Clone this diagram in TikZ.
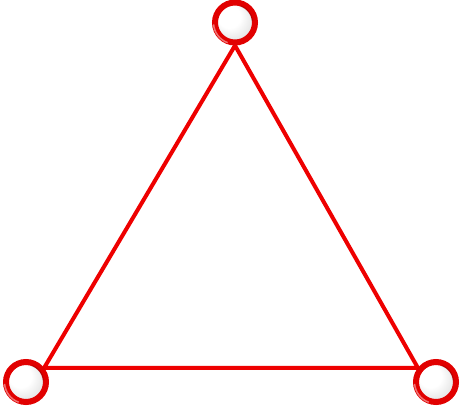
\documentclass[tikz,border=0pt]{standalone}
\usetikzlibrary{backgrounds}
\pgfdeclareradialshading{myball}{\pgfpoint{-10bp}{10bp}}{color(0bp)=(white); color(14bp)=(white); color(30bp)=(black!12); color(50bp)=(black!22)}
\begin{document}
\begin{tikzpicture}[x=1pt,y=-1pt,
  edge/.style={draw={rgb,255:red,238;green,0;blue,0},line width=4pt,line cap=round,line join=round},
  ball/.style={circle,minimum size=40pt,inner sep=0pt,outer sep=3pt,
    draw={rgb,255:red,225;green,0;blue,0},line width=6pt,shading=myball}]
\useasboundingbox (0,0) rectangle (462,418);
\node[ball] (t) at (235,22.5) {};
\node[ball] (l) at (26,382) {};
\node[ball] (r) at (436,382) {};
\begin{scope}[on background layer]
\draw[edge] (t.270) -- (l.38) -- (r.142) -- cycle;
\end{scope}
\foreach \n in {t,l,r}{
  \draw[white,opacity=0.45,line width=1.5pt] (\n) ++(110:21.5) arc (110:175:21.5);
  \draw[black,opacity=0.15,line width=1.5pt] (\n) ++(290:17.5) arc (290:355:17.5);
}
\end{tikzpicture}
\end{document}
